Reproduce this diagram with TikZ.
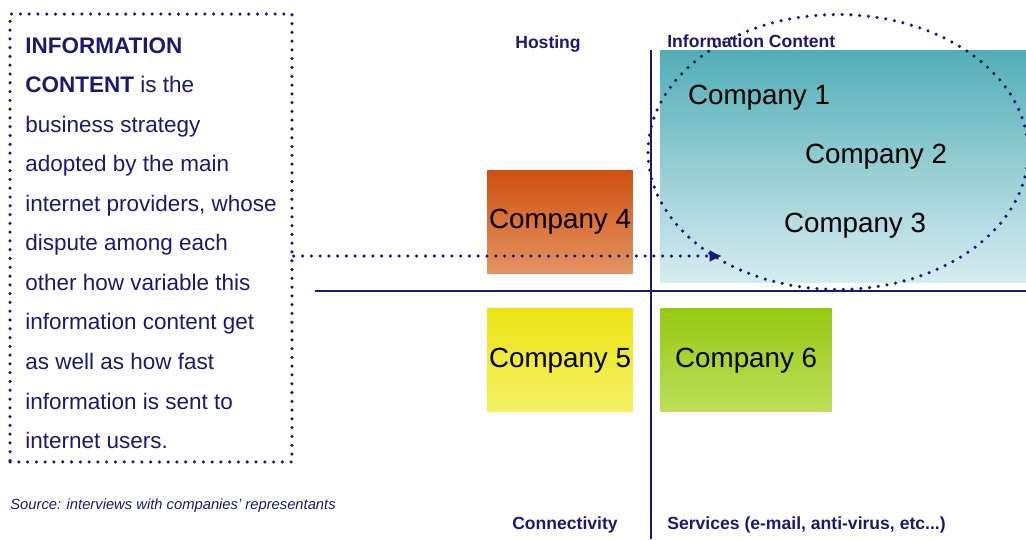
\documentclass[tikz,border=0pt]{standalone}
\usepackage{fontspec}
\setmainfont{Liberation Sans}
\usepackage{tikz}
\usetikzlibrary{shapes.geometric,arrows.meta,positioning}
\definecolor{icnavy}{RGB}{26,26,112}
\definecolor{tealtop}{RGB}{82,174,182}
\definecolor{tealbot}{RGB}{214,236,240}
\definecolor{orangetop}{RGB}{208,80,16}
\definecolor{orangebot}{RGB}{226,148,98}
\definecolor{yellowtop}{RGB}{236,228,20}
\definecolor{yellowbot}{RGB}{244,240,100}
\definecolor{greentop}{RGB}{150,200,16}
\definecolor{greenbot}{RGB}{190,222,90}

\begin{document}
\begin{tikzpicture}[
    x=0.02cm, y=-0.02cm,
    node distance=0.7cm,
    dots/.style={icnavy, line width=2pt, line cap=round, dash pattern=on 0pt off 5pt},
    defbox/.style={dots, draw, rectangle, minimum width=5.64cm, minimum height=8.96cm, align=left, text=icnavy, font=\fontsize{12.8}{22.5}\selectfont},
    company/.style={rectangle, minimum width=2.92cm, minimum height=2.06cm, inner sep=0pt, font=\fontsize{15.8}{18}\selectfont, text=black},
    firm/.style={inner sep=0pt, font=\fontsize{15.8}{18}\selectfont, text=black},
    axislabel/.style={inner sep=0pt, font=\fontsize{10}{12}\selectfont\bfseries, text=icnavy},
    axis/.style={line width=1.6pt, icnavy},
    arrow/.style={dots, -{Latex[length=7pt,width=7pt]}}
]
\useasboundingbox (0,0) rectangle (1026,539);

% Information content quadrant
\node[rectangle, anchor=north west, minimum width=7.32cm, minimum height=4.64cm, top color=tealtop, bottom color=tealbot] (info) at (660,50) {};

% Axes
\draw[axis] (651,50) -- (651,539);
\draw[axis] (315,291) -- (1026,291);

% Companies
\node[company, top color=orangetop, bottom color=orangebot] (c4) at (560,221.5) {Company 4};
\node[company, top color=yellowtop, bottom color=yellowbot, below=of c4] (c5) {Company 5};
\node[company, top color=greentop, bottom color=greenbot, minimum width=3.42cm, right=0.54cm of c5] (c6) {Company 6};

\node[firm] (c1) at (759,98) {Company 1};
\node[firm] (c2) at (876,157) {Company 2};
\node[firm] (c3) at (855,226) {Company 3};

% Cluster
\node[ellipse, dots, draw, minimum width=7.6cm, minimum height=5.5cm] (ring) at (838,152) {};

% Definition
\node[defbox] (def) at (151,238) {%
\rule{0pt}{0.52cm}{\bfseries INFORMATION}\\
{\bfseries CONTENT} is the\\
business strategy\\
adopted by the main\\
internet providers, whose\\
dispute among each\\
other how variable this\\
information content get\\
as well as how fast\\
information is sent to\\
internet users.};

% Arrow
\coordinate (tip) at (722,256);
\draw[arrow] ([yshift=-0.36cm]def.east) -- (tip);

% Labels
\node[axislabel] (host) at (548,44) {Hosting};
\node[axislabel, anchor=west] (content) at (667,41) {Information Content};
\node[axislabel] (conn) at (565,525) {Connectivity};
\node[axislabel, anchor=west] (serv) at (667,525) {Services (e-mail, anti-virus, etc...)};
\node[anchor=west, inner sep=0pt, text=icnavy, font=\fontsize{8.4}{10}\selectfont\itshape] (src) at (10,506) {Source: interviews with companies' representants};

\end{tikzpicture}
\end{document}
